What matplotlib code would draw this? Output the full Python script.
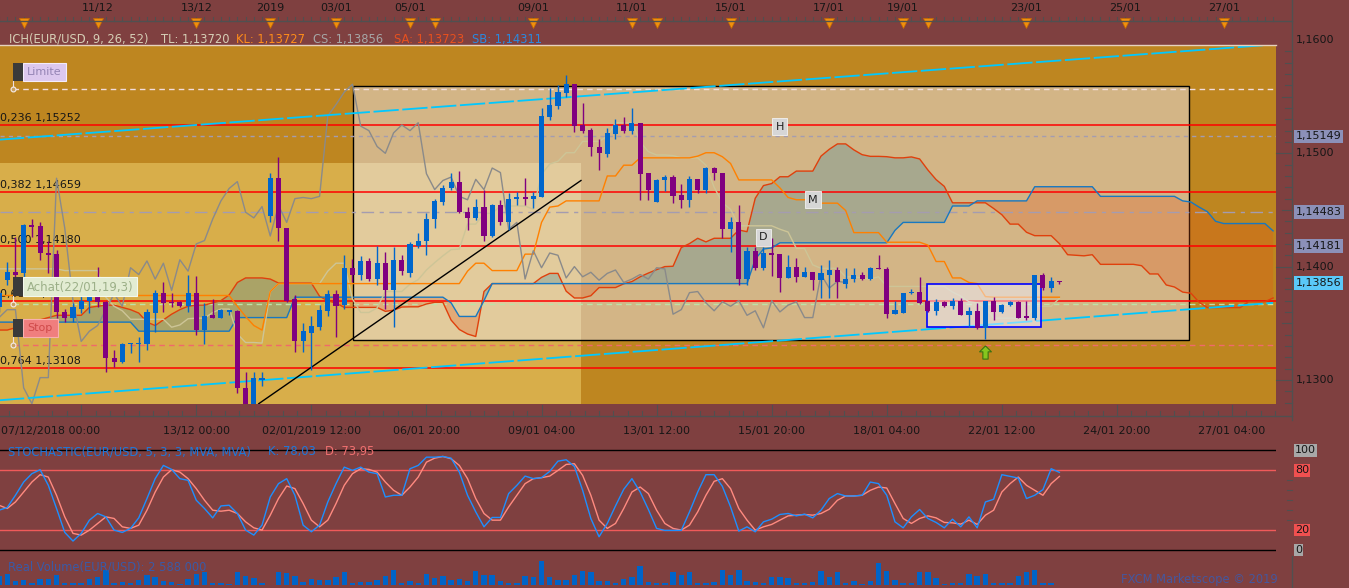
import numpy as np
import matplotlib
matplotlib.use("Agg")
import matplotlib.pyplot as plt
import matplotlib.transforms as mtransforms
from matplotlib.patches import Rectangle
from matplotlib.lines import Line2D
from matplotlib.path import Path

# EUR/USD 4H candles (07/12/2018 -> 23/01/2019)
opens = np.array([
    1.1364, 1.1388, 1.1395, 1.1394, 1.1437, 1.1436, 1.1412, 1.1411, 1.1360, 1.1355,
    1.1363, 1.1370, 1.1373, 1.1369, 1.1319, 1.1316, 1.1332, 1.1332, 1.1332, 1.1359,
    1.1377, 1.1369, 1.1369, 1.1365, 1.1377, 1.1344, 1.1357, 1.1355, 1.1360, 1.1361,
    1.1293, 1.1276, 1.1300, 1.1445, 1.1478, 1.1434, 1.1371, 1.1334, 1.1341, 1.1347,
    1.1361, 1.1376, 1.1366, 1.1399, 1.1393, 1.1405, 1.1389, 1.1403, 1.1379, 1.1406,
    1.1394, 1.1418, 1.1423, 1.1442, 1.1457, 1.1469, 1.1475, 1.1448, 1.1443, 1.1453,
    1.1427, 1.1454, 1.1439, 1.1460, 1.1461, 1.1460, 1.1461, 1.1532, 1.1542, 1.1553,
    1.1561, 1.1525, 1.1521, 1.1506, 1.1499, 1.1517, 1.1525, 1.1520, 1.1527, 1.1483,
    1.1457, 1.1476, 1.1479, 1.1463, 1.1459, 1.1477, 1.1468, 1.1487, 1.1483, 1.1433,
    1.1439, 1.1389, 1.1414, 1.1399, 1.1412, 1.1411, 1.1390, 1.1400, 1.1391, 1.1395,
    1.1388, 1.1393, 1.1397, 1.1385, 1.1389, 1.1393, 1.1389, 1.1399, 1.1398, 1.1358,
    1.1359, 1.1377, 1.1378, 1.1370, 1.1361, 1.1369, 1.1365, 1.1370, 1.1357, 1.1361,
    1.1346, 1.1370, 1.1360, 1.1366, 1.1369, 1.1356, 1.1355, 1.1393, 1.1381, 1.1387])
highs = np.array([
    1.1379, 1.1404, 1.1426, 1.1438, 1.1442, 1.1439, 1.1423, 1.1415, 1.1363, 1.1368,
    1.1377, 1.1382, 1.1400, 1.1370, 1.1326, 1.1333, 1.1333, 1.1338, 1.1363, 1.1379,
    1.1386, 1.1377, 1.1370, 1.1393, 1.1392, 1.1368, 1.1371, 1.1363, 1.1362, 1.1362,
    1.1307, 1.1307, 1.1307, 1.1483, 1.1497, 1.1434, 1.1375, 1.1350, 1.1356, 1.1366,
    1.1379, 1.1379, 1.1410, 1.1407, 1.1409, 1.1408, 1.1418, 1.1413, 1.1417, 1.1410,
    1.1422, 1.1430, 1.1447, 1.1460, 1.1472, 1.1483, 1.1484, 1.1453, 1.1460, 1.1468,
    1.1455, 1.1459, 1.1465, 1.1466, 1.1478, 1.1466, 1.1540, 1.1558, 1.1560, 1.1569,
    1.1561, 1.1544, 1.1522, 1.1513, 1.1522, 1.1530, 1.1532, 1.1540, 1.1527, 1.1483,
    1.1477, 1.1481, 1.1481, 1.1473, 1.1480, 1.1477, 1.1488, 1.1488, 1.1483, 1.1444,
    1.1454, 1.1417, 1.1417, 1.1417, 1.1425, 1.1411, 1.1410, 1.1408, 1.1400, 1.1395,
    1.1401, 1.1406, 1.1400, 1.1399, 1.1399, 1.1395, 1.1400, 1.1410, 1.1400, 1.1370,
    1.1377, 1.1380, 1.1391, 1.1370, 1.1371, 1.1370, 1.1372, 1.1372, 1.1364, 1.1368,
    1.1370, 1.1373, 1.1367, 1.1370, 1.1370, 1.1370, 1.1393, 1.1394, 1.1391, 1.1387])
lows = np.array([
    1.1360, 1.1384, 1.1391, 1.1391, 1.1426, 1.1406, 1.1394, 1.1355, 1.1351, 1.1351,
    1.1359, 1.1359, 1.1364, 1.1307, 1.1311, 1.1315, 1.1324, 1.1316, 1.1326, 1.1342,
    1.1360, 1.1364, 1.1364, 1.1360, 1.1340, 1.1332, 1.1355, 1.1355, 1.1357, 1.1288,
    1.1273, 1.1273, 1.1295, 1.1439, 1.1423, 1.1369, 1.1325, 1.1325, 1.1309, 1.1344,
    1.1356, 1.1338, 1.1363, 1.1386, 1.1388, 1.1387, 1.1384, 1.1363, 1.1347, 1.1393,
    1.1391, 1.1416, 1.1410, 1.1434, 1.1454, 1.1468, 1.1447, 1.1432, 1.1441, 1.1423,
    1.1426, 1.1437, 1.1432, 1.1454, 1.1454, 1.1452, 1.1461, 1.1529, 1.1539, 1.1550,
    1.1519, 1.1518, 1.1498, 1.1485, 1.1497, 1.1513, 1.1518, 1.1517, 1.1459, 1.1459,
    1.1457, 1.1467, 1.1456, 1.1452, 1.1453, 1.1465, 1.1465, 1.1476, 1.1425, 1.1413,
    1.1384, 1.1384, 1.1397, 1.1397, 1.1392, 1.1378, 1.1390, 1.1386, 1.1391, 1.1379,
    1.1372, 1.1372, 1.1372, 1.1381, 1.1386, 1.1388, 1.1388, 1.1398, 1.1355, 1.1358,
    1.1359, 1.1376, 1.1367, 1.1360, 1.1357, 1.1364, 1.1363, 1.1357, 1.1347, 1.1345,
    1.1336, 1.1353, 1.1359, 1.1365, 1.1355, 1.1353, 1.1353, 1.1379, 1.1378, 1.1385])
closes = np.array([
    1.1377, 1.1395, 1.1393, 1.1437, 1.1435, 1.1412, 1.1410, 1.1360, 1.1355, 1.1364,
    1.1370, 1.1373, 1.1369, 1.1319, 1.1316, 1.1332, 1.1333, 1.1333, 1.1360, 1.1377,
    1.1368, 1.1368, 1.1365, 1.1377, 1.1344, 1.1356, 1.1355, 1.1362, 1.1362, 1.1293,
    1.1279, 1.1302, 1.1302, 1.1478, 1.1434, 1.1370, 1.1334, 1.1343, 1.1348, 1.1362,
    1.1376, 1.1365, 1.1399, 1.1393, 1.1405, 1.1389, 1.1403, 1.1379, 1.1406, 1.1396,
    1.1420, 1.1423, 1.1442, 1.1458, 1.1469, 1.1475, 1.1448, 1.1443, 1.1453, 1.1427,
    1.1454, 1.1439, 1.1460, 1.1461, 1.1460, 1.1462, 1.1533, 1.1543, 1.1554, 1.1561,
    1.1524, 1.1520, 1.1506, 1.1500, 1.1518, 1.1525, 1.1520, 1.1527, 1.1482, 1.1468,
    1.1476, 1.1479, 1.1462, 1.1459, 1.1477, 1.1468, 1.1487, 1.1483, 1.1433, 1.1439,
    1.1389, 1.1414, 1.1399, 1.1412, 1.1410, 1.1390, 1.1400, 1.1391, 1.1395, 1.1388,
    1.1394, 1.1397, 1.1386, 1.1389, 1.1393, 1.1389, 1.1399, 1.1398, 1.1358, 1.1362,
    1.1377, 1.1378, 1.1368, 1.1361, 1.1369, 1.1365, 1.1370, 1.1357, 1.1361, 1.1346,
    1.1370, 1.1360, 1.1366, 1.1369, 1.1355, 1.1355, 1.1393, 1.1381, 1.1387, 1.1386])

# Ichimoku lines, stored as (value, number of candles) runs
tenkan_runs = [
    (1.1398, 8), (1.13965, 5), (1.1373, 1), (1.1365, 1), (1.1361, 1), (1.13535, 5),
    (1.13465, 1), (1.13485, 1), (1.1354, 1), (1.13545, 2), (1.13595, 1), (1.13625, 2),
    (1.13405, 1), (1.1333, 2), (1.13325, 1), (1.1378, 1), (1.1385, 6), (1.1396, 1),
    (1.1403, 2), (1.13715, 1), (1.13595, 2), (1.13635, 1), (1.1378, 3), (1.13845, 1),
    (1.13885, 1), (1.1397, 1), (1.14035, 1), (1.14095, 1), (1.1415, 1), (1.14155, 1),
    (1.14375, 2), (1.1447, 2), (1.14535, 4), (1.14505, 1), (1.14815, 1), (1.14905, 1),
    (1.1493, 1), (1.15005, 2), (1.15105, 3), (1.1515, 1), (1.1527, 3), (1.1510, 1),
    (1.15015, 1), (1.14985, 2), (1.1498, 1), (1.1496, 3), (1.14895, 1), (1.1470, 1),
    (1.14565, 1), (1.14505, 1), (1.1436, 5), (1.1433, 1), (1.14305, 1), (1.1416, 2),
    (1.14015, 1), (1.13985, 3), (1.1391, 2), (1.1390, 1), (1.1389, 1), (1.1391, 1),
    (1.13825, 8), (1.13775, 1), (1.1374, 1), (1.1369, 1), (1.1368, 1), (1.13635, 1),
    (1.13545, 5), (1.1365, 3), (1.1372, 1)]
kijun_runs = [
    (1.13745, 29), (1.1365, 1), (1.1356, 1), (1.1348, 1), (1.1344, 1), (1.1378, 1),
    (1.1385, 23), (1.1396, 1), (1.1403, 2), (1.13965, 4), (1.1411, 2), (1.1439, 1),
    (1.14525, 1), (1.14535, 1), (1.1458, 5), (1.1480, 2), (1.14895, 2), (1.1496, 7),
    (1.14975, 1), (1.15005, 2), (1.1497, 1), (1.1491, 1), (1.14765, 5), (1.14695, 1),
    (1.1461, 1), (1.1459, 3), (1.1456, 3), (1.14495, 1), (1.1430, 4), (1.14215, 5),
    (1.1419, 1), (1.14045, 2), (1.1390, 2), (1.1386, 1), (1.1385, 1), (1.13735, 1),
    (1.1373, 9)]
# senkou spans are drawn 26 candles ahead, so they have 156 points
senkou_a_runs = [
    (1.1344, 2), (1.1346, 1), (1.1348, 1), (1.1351, 1), (1.1353, 1), (1.1355, 1),
    (1.1357, 4), (1.1364, 1), (1.1365, 1), (1.1366, 2), (1.1364, 1), (1.1362, 1),
    (1.1359, 1), (1.1351, 1), (1.1348, 1), (1.1353, 1), (1.1358, 1), (1.1362, 1),
    (1.1365, 1), (1.1366, 2), (1.1368, 1), (1.1370, 1), (1.1375, 1), (1.1386, 1),
    (1.1390, 3), (1.1389, 1), (1.13855, 5), (1.13738, 1), (1.13698, 1), (1.13678, 1),
    (1.1364, 5), (1.13605, 1), (1.13615, 1), (1.13643, 1), (1.13645, 2), (1.1367, 1),
    (1.13685, 2), (1.13528, 1), (1.13445, 1), (1.13405, 1), (1.13383, 1), (1.1378, 1),
    (1.1385, 6), (1.13905, 1), (1.1394, 2), (1.13783, 1), (1.13723, 2), (1.13743, 1),
    (1.13815, 3), (1.13848, 1), (1.13868, 1), (1.1391, 1), (1.13943, 1), (1.13973, 1),
    (1.1400, 1), (1.14003, 1), (1.14168, 1), (1.14203, 1), (1.1425, 1), (1.14218, 1),
    (1.1425, 3), (1.14323, 1), (1.14308, 1), (1.14603, 1), (1.14715, 1), (1.14733, 1),
    (1.14793, 2), (1.14843, 3), (1.14975, 1), (1.15035, 1), (1.15083, 2), (1.1503, 1),
    (1.14988, 1), (1.14973, 2), (1.1497, 1), (1.1496, 2), (1.14968, 1), (1.1495, 1),
    (1.14853, 1), (1.14768, 1), (1.14708, 1), (1.14563, 5), (1.14513, 1), (1.14458, 1),
    (1.14375, 2), (1.14303, 1), (1.14273, 3), (1.14203, 1), (1.14105, 1), (1.1410, 1),
    (1.14095, 1), (1.14105, 1), (1.1402, 5), (1.14008, 1), (1.13935, 2), (1.13838, 1),
    (1.1382, 1), (1.13775, 1), (1.13765, 1), (1.13685, 1), (1.13638, 5), (1.1369, 3),
    (1.13723, 1)]
senkou_b_runs = [
    (1.1351, 17), (1.1343, 12), (1.1355, 7), (1.1373, 19), (1.1368, 1), (1.1356, 3),
    (1.1370, 1), (1.1385, 32), (1.14065, 1), (1.14155, 1), (1.14165, 1), (1.1421, 14),
    (1.1432, 1), (1.1439, 6), (1.14535, 3), (1.1458, 7), (1.14705, 8), (1.1462, 10),
    (1.1458, 1), (1.1457, 1), (1.14525, 1), (1.14485, 1), (1.1440, 1), (1.1438, 6),
    (1.14315, 1)]

stoch_k = [
    40, 42.7, 55, 68.3, 76.7, 80.7, 65, 41.7, 17.7, 9, 16.7, 30, 36.7, 33.3, 20, 17.7,
    21.7, 32.3, 51.7, 71.7, 85, 81, 71.7, 70, 50, 41.7, 32.3, 44.3, 45, 36.7, 20, 15,
    25, 53.3, 66.7, 71.7, 55, 25, 18.3, 25, 48.3, 66.7, 83.3, 80, 83.3, 78.3, 76.7, 53.3,
    55, 55, 81.7, 85, 93.3, 93.3, 94, 92.3, 78.3, 55, 38.3, 23.3, 32.7, 32.7, 56.7, 65,
    74.3, 71.7, 72.7, 79, 89.3, 90.7, 84, 60, 31.7, 13.3, 26.7, 44.3, 61, 71.7, 58.3, 40.7,
    21.7, 19.7, 19.7, 19.7, 38.3, 58.3, 75.7, 75.7, 64, 43.3, 19, 23.3, 18.3, 28.3, 31, 35.7,
    36.7, 34.3, 36, 32.3, 40, 51.7, 56.7, 54.3, 54.3, 55, 68.3, 66.7, 55, 28.3, 22.3, 33.3,
    40.7, 31.7, 27.7, 22.3, 31, 23.3, 33.3, 22.3, 48.3, 51, 75.7, 74, 72.3, 51.7, 55, 60.7,
    81.7, 78.03]
stoch_d = [
    45, 41.7, 48.3, 58.3, 68.3, 75.7, 73.3, 55, 33.3, 16.7, 15, 20, 26.7, 33.3, 31.7, 23.3,
    21.7, 25, 40, 58.3, 73.3, 80.7, 78.3, 71.7, 61.7, 50, 40, 39, 40, 36.7, 28.3, 22.3,
    20, 35, 51.7, 64.3, 61.7, 46.7, 30, 23.3, 30, 46.7, 65, 76.7, 81.7, 81, 78.3, 68.3,
    60, 55, 63.3, 73.3, 88.3, 92.3, 94, 91.7, 85, 71.7, 51.7, 36.7, 30, 30, 43.3, 55,
    66.7, 71.7, 72.7, 74.3, 80, 86, 86.7, 75, 55, 30, 21.7, 26.7, 41.7, 58.3, 63.3, 56.7,
    40, 26.7, 21.7, 20, 25, 38.3, 55, 69, 71.7, 61.7, 41.7, 30, 20, 23.3, 25.7, 30,
    34.3, 35, 35.7, 35, 36.7, 41, 50, 54.3, 54.3, 55, 60, 63.3, 62.3, 46.7, 31.7, 26.7,
    31.7, 34.3, 32.3, 27.7, 27.3, 26, 30, 25.7, 35, 40, 58.3, 66.7, 73.3, 65, 60, 55,
    66.7, 73.95]

volume = [  # thousands
    900, 1100, 400, 500, 170, 570, 570, 970, 170, 170, 170, 570, 770, 1500, 230, 300,
    170, 500, 970, 770, 370, 300, 100, 570, 1100, 1300, 170, 170, 100, 1300, 900, 700,
    170, 30, 1300, 1170, 900, 300, 570, 500, 500, 770, 1300, 170, 300, 300, 500, 900,
    1500, 170, 370, 170, 1100, 700, 900, 500, 570, 370, 1370, 970, 970, 370, 170, 170,
    900, 770, 2400, 830, 500, 500, 970, 1400, 1330, 400, 400, 170, 570, 770, 1930, 330,
    170, 170, 1330, 970, 1330, 170, 170, 300, 1500, 970, 1500, 370, 300, 170, 770, 770,
    700, 170, 170, 300, 1370, 770, 1300, 170, 370, 100, 370, 2170, 1370, 500, 170, 170,
    1300, 1300, 700, 100, 170, 170, 1100, 900, 1100, 170, 170, 170, 900, 1300, 1500, 170,
    170, 50]

# retracement (high 1,16211 / low 1,12150)
fib_ratios = [0.236, 0.382, 0.500, 0.618, 0.764]
fib_prices = [1.15252, 1.14659, 1.14180, 1.13700, 1.13108]
limit_price, buy_price, stop_price = 1.15567, 1.13670, 1.13308
dashed_prices = [1.15149, 1.14483]
tag_prices = [1.15149, 1.14483, 1.14181]
last_price = 1.13856

# user drawings (candle index, price)
box_x, box_p = (43.1, 144.8), (1.1335, 1.1559)
zone_x_end, zone_p_top = 70.8, 1.1491
pattern_x, pattern_p = (112.9, 126.8), (1.1347, 1.1385)
channel_up = ([0, 155], [1.1512, 1.1596])
channel_dn = ([0, 155], [1.1282, 1.1368])
trend_line = ([31.6, 70.8], [1.1279, 1.1476])
hmd_marks = [('H', 95, 1.15236), ('M', 99, 1.14592), ('D', 93, 1.14257)]
signal_arrow = (120, 1.13246)

event_idx = [3, 12, 24, 33, 41, 50, 53, 65, 77, 80, 89, 101, 110, 113, 125, 137, 149]
top_labels = [(12, '11/12'), (24, '13/12'), (33, '2019'), (41, '03/01'), (50, '05/01'),
              (65, '09/01'), (77, '11/01'), (89, '15/01'), (101, '17/01'), (110, '19/01'),
              (125, '23/01'), (137, '25/01'), (149, '27/01')]
bottom_labels = ['07/12/2018 00:00', '13/12 00:00', '02/01/2019 12:00', '06/01 20:00',
                 '09/01 04:00', '13/01 12:00', '15/01 20:00', '18/01 04:00',
                 '22/01 12:00', '24/01 20:00', '27/01 04:00']


def expand(runs):
    return np.concatenate([np.full(n, v) for v, n in runs])


tenkan = expand(tenkan_runs)
kijun = expand(kijun_runs)
senkou_a = expand(senkou_a_runs)
senkou_b = expand(senkou_b_runs)
idx = np.arange(len(closes))
fwd = np.arange(len(senkou_a))

# ---------------------------------------------------------------- layout
W, H = 1349, 588
STEP, X_OFF = 8.22, -1.0          # pixels per candle, pixel of candle 0
X_LIM = ((0 - X_OFF) / STEP, (1276 - X_OFF) / STEP)
P_LIM = (1.16 - (404 - 40) / 11330, 1.16 - (45 - 40) / 11330)
BG = '#7F4040'
TXT = '#161616'
plt.rcParams['font.family'] = ['DejaVu Sans']

fig = plt.figure(figsize=(W / 100, H / 100), dpi=100)
fig.patch.set_facecolor(BG)


def fx(px):
    return px / W


def fy(py):
    return 1 - py / H


def panel(x0, y0, x1, y1):
    a = fig.add_axes([fx(x0), fy(y1), (x1 - x0) / W, (y1 - y0) / H])
    a.set_xticks([])
    a.set_yticks([])
    for s in a.spines.values():
        s.set_visible(False)
    a.set_xlim(X_LIM)
    return a


def fig_rect(x0, y0, x1, y1, **kw):
    fig.add_artist(Rectangle((fx(x0), fy(y1)), (x1 - x0) / W, (y1 - y0) / H,
                             transform=fig.transFigure, **kw))


def fig_line(xs, ys, **kw):
    fig.add_artist(Line2D([fx(v) for v in xs], [fy(v) for v in ys],
                          transform=fig.transFigure, **kw))


# ---------------------------------------------------------------- price panel
ax = panel(0, 45, 1276, 404)
ax.set_ylim(P_LIM)
ax.set_facecolor('#BE8620')

ax.add_patch(Rectangle((X_LIM[0] - 1, P_LIM[0] - 0.001), zone_x_end - X_LIM[0] + 1,
                       zone_p_top - P_LIM[0] + 0.001, fc='#D8AE4A', ec='none', zorder=0.5))
ax.add_patch(Rectangle((box_x[0], box_p[0]), box_x[1] - box_x[0], box_p[1] - box_p[0],
                       fc=(0.933, 0.933, 1.0, 0.46), ec='black', lw=1, zorder=1))

# kumo
ax.fill_between(fwd, senkou_a, senkou_b, where=senkou_a >= senkou_b, interpolate=True,
                color='#56919E', alpha=0.35, lw=0, zorder=1.5)
ax.fill_between(fwd, senkou_a, senkou_b, where=senkou_a < senkou_b, interpolate=True,
                color='#E35214', alpha=0.27, lw=0, zorder=1.5)

# horizontal levels; the 0,618 caption is hidden behind the order label, as on screen
hide_clip = Rectangle((0, 0), fx(13), 1, transform=fig.transFigure)
for r, p in zip(fib_ratios, fib_prices):
    ax.axhline(p, color='#FF0000', lw=1.1, zorder=2)
    lbl = f'{r:.3f} {p:.5f}'.replace('.', ',')
    t = ax.text(X_LIM[0] + 0.05, p, lbl, fontsize=8, color=TXT, va='bottom', ha='left',
                transform=mtransforms.offset_copy(ax.transData, fig=fig, y=1.5, units='dots'),
                zorder=2)
    if r == 0.618:
        t.set_clip_path(hide_clip)
ax.axhline(limit_price, xmin=0.01, color='#F2DCDC', lw=1, dashes=(4, 3), zorder=2)
ax.axhline(dashed_prices[0], color='#A49CB0', lw=1, dashes=(3, 3), zorder=2)
ax.axhline(dashed_prices[1], color='#A49CB0', lw=1, dashes=(9, 4, 3, 4), zorder=2)
ax.axhline(buy_price, xmin=0.01, color='#BDE2A8', lw=1, dashes=(4, 3), zorder=2)
ax.axhline(stop_price, xmin=0.01, color='#F06A6A', lw=1, dashes=(4, 3), zorder=2)

# ichimoku lines
ax.plot(fwd, senkou_a, color='#E0400C', lw=1, zorder=3)
ax.plot(fwd, senkou_b, color='#1878C0', lw=1, zorder=3)
ax.plot(idx, tenkan, color='#CDC597', lw=1, zorder=3)
ax.plot(idx, kijun, color='#FF8000', lw=1, zorder=3)
ax.plot(idx[:-26], closes[26:], color='#8A8A8A', lw=1, zorder=3)  # chikou span

# drawings
for xs, ps in (channel_up, channel_dn):
    ax.plot(xs, ps, color='#00C8FF', lw=1.3, dashes=(14, 2), zorder=3.5)
ax.plot(*trend_line, color='black', lw=1, zorder=3.5)
ax.add_patch(Rectangle((pattern_x[0], pattern_p[0]), pattern_x[1] - pattern_x[0],
                       pattern_p[1] - pattern_p[0], fc=(0.94, 0.94, 1.0, 0.5),
                       ec='#0000FF', lw=1.2, zorder=3.7))

# candles
col = np.where(closes >= opens, '#0066CC', '#800080')
ax.vlines(idx, lows, highs, colors=col, lw=1, zorder=4)
ax.bar(idx, np.maximum(np.abs(closes - opens), 0.00009), bottom=np.minimum(opens, closes),
       width=0.62, color=col, lw=0, zorder=4.1)

for s, i, p in hmd_marks:
    ax.text(i, p, s, fontsize=8, color='#202020', ha='center', va='center', zorder=5,
            bbox=dict(boxstyle='square,pad=0.3', fc='#D6D6D6', ec='#F2F2F2', lw=0.6))
arrow = Path([(0, 1), (0.9, 0.1), (0.4, 0.1), (0.4, -1), (-0.4, -1), (-0.4, 0.1),
              (-0.9, 0.1), (0, 1)])
ax.plot(*signal_arrow, marker=arrow, ms=9.5, mfc='#86C61E', mec='#3C7212', mew=0.8,
        zorder=5)

# ---------------------------------------------------------------- stochastic
ax_s = panel(0, 440, 1276, 552)
ax_s.set_ylim(-2.0, 110.55)
ax_s.set_facecolor('none')
for lvl, c in ((100, 'black'), (0, 'black'), (80, '#F05A5A'), (20, '#F05A5A')):
    ax_s.axhline(lvl, color=c, lw=1)
ax_s.plot(idx, stoch_d, color='#FF8A80', lw=1)
ax_s.plot(idx, stoch_k, color='#1E8FFF', lw=1)

# ---------------------------------------------------------------- volume
ax_v = panel(0, 556, 1276, 586)
ax_v.set_ylim(-100, 2900)
ax_v.set_facecolor('none')
ax_v.bar(idx, volume, width=0.66, color='#0064C8', lw=0)

# ---------------------------------------------------------------- axes decoration
bt = mtransforms.blended_transform_factory(ax.transData, fig.transFigure)
br = mtransforms.blended_transform_factory(fig.transFigure, ax.transData)
bs = mtransforms.blended_transform_factory(fig.transFigure, ax_s.transData)

# top time axis
fig_line([0, 1292], [21, 21], color='#505050', lw=1)
for i in range(0, 156):
    ax.add_line(Line2D([i, i], [fy(17), fy(21)], transform=bt, color='#505050', lw=0.8,
                       clip_on=False))
for i, s in top_labels:
    ax.text(i, fy(8), s, transform=bt, ha='center', va='center', fontsize=8, color=TXT,
            clip_on=False)
ax.plot(event_idx, [fy(23)] * len(event_idx), 'v', transform=bt, ms=6.5,
        color='#F0900E', mec='#C86A00', mew=0.5, clip_on=False)
fig_line([0, 1276], [45, 45], color='#E6D2BE', lw=1)

# header of the ichimoku
for s, x, c in (('ICH(EUR/USD, 9, 26, 52)', 9, '#D6CFB6'), ('TL: 1,13720', 161, '#D6CFB6'),
                ('KL: 1,13727', 236, '#FF8C1A'), ('CS: 1,13856', 313, '#A6A6A6'),
                ('SA: 1,13723', 394, '#E8501E'), ('SB: 1,14311', 472, '#2A8AE0')):
    fig.text(fx(x), fy(39), s, fontsize=8.3, color=c, va='center', ha='left')

# bottom time axis
fig_line([0, 1292], [416, 416], color='#505050', lw=1)
for k in range(0, 90):
    i = 10 + 1.75 * (k - 5)
    if X_LIM[0] <= i <= X_LIM[1]:
        top = 405 if k % 8 == 5 else 411
        ax.add_line(Line2D([i, i], [fy(top), fy(416)], transform=bt, color='#505050',
                           lw=0.8, clip_on=False))
for k, s in enumerate(bottom_labels):
    i = 10 + 14 * k
    if k == 0:
        fig.text(fx(1), fy(431), s, fontsize=8, color=TXT, va='center', ha='left')
    else:
        ax.text(i, fy(431), s, transform=bt, ha='center', va='center', fontsize=8,
                color=TXT, clip_on=False)

# right price scale
fig_line([1292, 1292], [0, 420], color='#505050', lw=1)
fig_line([1292, 1292], [556, 588], color='#505050', lw=1)
for k in range(1128, 1160):
    p = k / 1000
    ln = 16 if k % 10 == 0 else (10 if k % 5 == 0 else 7)
    ax.add_line(Line2D([fx(1292 - ln), fx(1292)], [p, p], transform=br, color='#505050',
                       lw=0.8, clip_on=False))
for p in (1.16, 1.15, 1.14, 1.13):
    ax.text(fx(1296), p, f'{p:.4f}'.replace('.', ','), transform=br, fontsize=8,
            color=TXT, va='center', ha='left', clip_on=False)
for p in tag_prices:
    ax.text(fx(1296), p, f'{p:.5f}'.replace('.', ','), transform=br, fontsize=8,
            color=TXT, va='center', ha='left', clip_on=False, zorder=6,
            bbox=dict(boxstyle='square,pad=0.15', fc='#8C90B8', ec='none'))
ax.text(fx(1296), last_price, f'{last_price:.5f}'.replace('.', ','), transform=br,
        fontsize=8, color=TXT, va='center', ha='left', clip_on=False, zorder=6,
        bbox=dict(boxstyle='square,pad=0.15', fc='#5AC8F8', ec='none'))

# stochastic scale and header
for lvl, c in ((100, '#A8A8A8'), (80, '#F05050'), (20, '#F05050'), (0, '#A8A8A8')):
    ax_s.text(fx(1295), lvl, str(lvl), transform=bs, fontsize=8, color=TXT, va='center',
              ha='left', clip_on=False, bbox=dict(boxstyle='square,pad=0.12', fc=c, ec='none'))
for lvl in (30, 40, 50, 60, 70):
    ax_s.add_line(Line2D([fx(1287), fx(1292)], [lvl, lvl], transform=bs, color='#505050',
                         lw=0.8, clip_on=False))
fig.text(fx(8), fy(452), 'STOCHASTIC(EUR/USD, 5, 3, 3, MVA, MVA)', fontsize=8.3,
         color='#1E78DC', va='center', ha='left')
fig.text(fx(268), fy(452), 'K: 78,03', fontsize=8.3, color='#1E78DC', va='center', ha='left')
fig.text(fx(325), fy(452), 'D: 73,95', fontsize=8.3, color='#F07070', va='center', ha='left')

fig.text(fx(8), fy(567), 'Real Volume(EUR/USD): 2 588 000', fontsize=8.3, color='#3A5AA6',
         va='center', ha='left')
fig.text(fx(1121), fy(579), 'FXCM Marketscope \u00a9 2019', fontsize=8.3, color='#45579E',
         va='center', ha='left')

# order labels on the left
for (y0, y1, x1, fc, ec, txt, tc, lvl_y) in (
        (63, 81, 66, '#DCC8EE', '#F4ECFA', 'Limite', '#9484B4', 89),
        (277, 296, 137, '#E2ECD2', '#F4F8EC', 'Achat(22/01,19,3)', '#9CB088', 304),
        (319, 337, 58, '#F07E7E', '#F8B0B0', 'Stop', '#D04A4A', 345)):
    fig_line([13, 13], [y1, lvl_y], color='#F0E0E0', lw=0.8)
    fig.add_artist(Line2D([fx(13)], [fy(lvl_y)], marker='o', ms=3.5, mfc='#C8A060',
                          mec='#F4ECEC', mew=0.8, transform=fig.transFigure))
    fig_rect(23, y0, x1, y1, fc=fc, ec=ec, lw=0.8)
    fig_rect(13, y0, 23, y1, fc='#3A3A3A', ec='none')
    fig.text(fx(27), fy((y0 + y1) / 2), txt, fontsize=8.5 if txt.startswith('A') else 8,
             color=tc, va='center', ha='left')

fig.savefig('out.png', dpi=100, facecolor=BG)
